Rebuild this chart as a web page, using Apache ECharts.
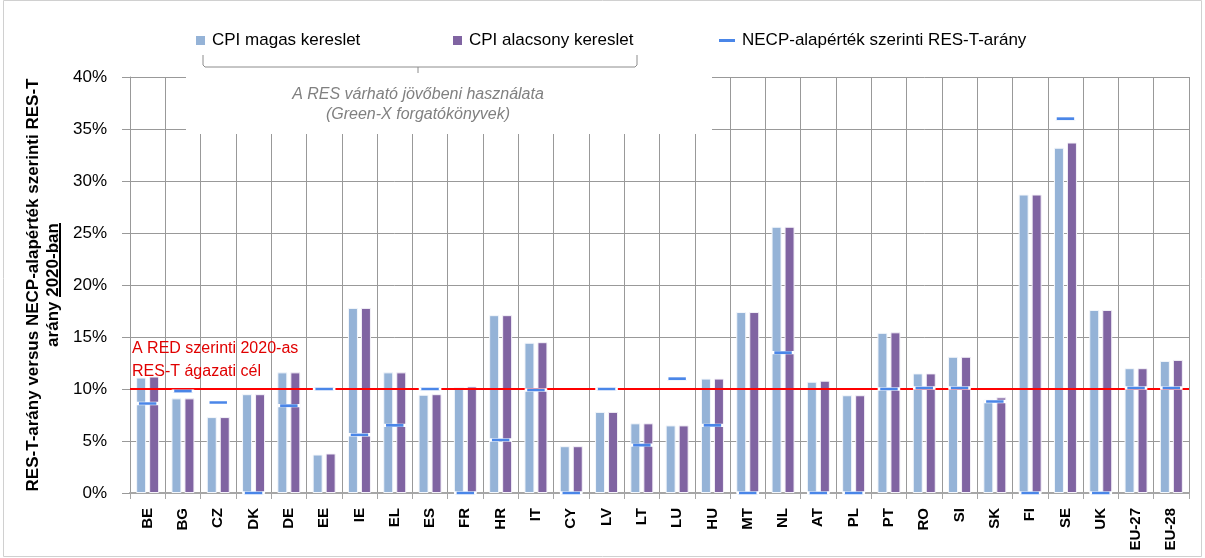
<!DOCTYPE html>
<html>
<head>
<meta charset="utf-8">
<script src="https://cdn.jsdelivr.net/npm/echarts@6/dist/echarts.min.js"></script>
<style>
html,body{margin:0;padding:0;background:#fff;}
#chart{width:1205px;height:558px;}
</style>
</head>
<body>
<div id="chart"></div>
<script>
const categories = ['BE','BG','CZ','DK','DE','EE','IE','EL','ES','FR','HR','IT','CY','LV','LT','LU','HU','MT','NL','AT','PL','PT','RO','SI','SK','FI','SE','UK','EU-27','EU-28'];
const cpiHigh = [11.1, 9.1, 7.3, 9.5, 11.6, 3.7, 17.8, 11.6, 9.45, 10.2, 17.1, 14.45, 4.5, 7.8, 6.7, 6.5, 11.0, 17.4, 25.6, 10.7, 9.4, 15.4, 11.5, 13.1, 9.0, 28.7, 33.2, 17.6, 12.0, 12.7];
const cpiLow  = [11.2, 9.1, 7.3, 9.5, 11.6, 3.8, 17.8, 11.6, 9.5, 10.25, 17.1, 14.5, 4.5, 7.8, 6.7, 6.5, 11.0, 17.4, 25.6, 10.8, 9.4, 15.45, 11.5, 13.1, 9.2, 28.7, 33.7, 17.6, 12.0, 12.8];
const necpShare = [8.6, 9.8, 8.7, 0, 8.4, 10.0, 5.6, 6.5, 10.0, 0, 5.1, 9.9, 0, 10.0, 4.6, 11.0, 6.5, 0, 13.5, 0, 0, 10.0, 10.1, 10.1, 8.8, 0, 36.0, 0, 10.1, 10.1];
const redTarget = 10;
const yTicks = {min: 0, max: 40, interval: 5};
const seriesNames = ['CPI magas kereslet', 'CPI alacsony kereslet', 'NECP-alapérték szerinti RES-T-arány'];
const yTitle1 = 'RES-T-arány versus NECP-alapérték szerinti RES-T';
const yTitle2a = 'arány ';
const yTitle2b = '2020-ban';
const targetLabel = 'A RED szerinti 2020-as\nRES-T ágazati cél';
const annot1 = 'A RES várható jövőbeni használata';
const annot2 = '(Green-X forgatókönyvek)';

const FONT = '"Liberation Sans", Arial, sans-serif';
const chart = echarts.init(document.getElementById('chart'), null, {renderer: 'canvas'});

const legendBase = {
  orient: 'horizontal', padding: 0, icon: 'rect', itemGap: 0,
  textStyle: {fontFamily: FONT, fontSize: 17, color: '#000', padding: [0,0,0,2]},
  itemStyle: {borderWidth: 0}
};

chart.setOption({
  animation: false,
  backgroundColor: '#fff',
  textStyle: {fontFamily: FONT},
  grid: {left: 130, right: 16, top: 77, bottom: 65, containLabel: false},
  legend: [
    Object.assign({}, legendBase, {left: 196, top: 32, itemWidth: 9, itemHeight: 9, data: [seriesNames[0]]}),
    Object.assign({}, legendBase, {left: 453, top: 32, itemWidth: 9, itemHeight: 9, data: [seriesNames[1]]}),
    Object.assign({}, legendBase, {left: 719, top: 32, itemWidth: 16, itemHeight: 3, data: [seriesNames[2]]})
  ],
  xAxis: {
    type: 'category',
    data: categories,
    axisLine: {show: true, lineStyle: {color: '#a6a6a6', width: 2}},
    axisTick: {show: true, interval: 0, length: 6, lineStyle: {color: '#a6a6a6'}},
    splitLine: {show: true, interval: 0, lineStyle: {color: '#999', width: 1}},
    axisLabel: {interval: 0, rotate: 90, margin: 15, fontSize: 15, fontWeight: 'bold', color: '#000', fontFamily: FONT}
  },
  yAxis: {
    type: 'value',
    min: yTicks.min, max: yTicks.max, interval: yTicks.interval,
    axisLine: {show: true, lineStyle: {color: '#999'}},
    axisTick: {show: true, length: 8, lineStyle: {color: '#999'}},
    splitLine: {show: true, lineStyle: {color: '#999', width: 1}},
    axisLabel: {formatter: '{value}%', fontSize: 17, color: '#000', margin: 23, fontFamily: FONT},
    name: '{a|' + yTitle1 + '}\n{a|' + yTitle2a + yTitle2b + '}',
    nameLocation: 'middle',
    nameRotate: 90,
    nameGap: 67,
    nameTextStyle: {
      rich: {a: {fontSize: 17, fontWeight: 'bold', color: '#000', fontFamily: FONT, lineHeight: 20}}
    }
  },
  series: [
    {
      name: seriesNames[0], type: 'bar', data: cpiHigh,
      barWidth: 10, barGap: '30%',
      itemStyle: {color: '#95b3d7', borderColor: '#f4f7fb', borderWidth: 1},
      markLine: {
        silent: true, symbol: 'none',
        data: [{yAxis: redTarget}],
        lineStyle: {color: '#ff0000', width: 2, type: 'solid'},
        label: {show: true, position: 'insideStartTop', formatter: targetLabel, color: '#e00000',
                fontSize: 16, lineHeight: 23, align: 'left', distance: [2, 6], fontFamily: FONT},
        z: 5
      }
    },
    {
      name: seriesNames[1], type: 'bar', data: cpiLow,
      barWidth: 10, barGap: '30%',
      itemStyle: {color: '#8064a2', borderColor: '#f4f2f8', borderWidth: 1}
    },
    {
      name: seriesNames[2], type: 'scatter', data: necpShare,
      symbol: 'rect', symbolSize: [20, 3], z: 6,
      itemStyle: {color: '#4a86e8', borderColor: '#ffffff', borderWidth: 1, opacity: 1}
    }
  ],
  graphic: [
    {type: 'rect', z: 1, shape: {x: 186, y: 70, width: 526, height: 64}, style: {fill: '#fff'}},
    {type: 'polyline', z: 3, shape: {points: [[203,55],[203,65],[205,67],[635,67],[637,65],[637,55]]},
     style: {stroke: '#8c8c8c', lineWidth: 1, fill: null}},
    {type: 'line', z: 3, shape: {x1: 418, y1: 67, x2: 418, y2: 73}, style: {stroke: '#8c8c8c', lineWidth: 1}},
    {type: 'text', z: 3, style: {text: annot1, x: 418, y: 95, align: 'center', verticalAlign: 'middle',
      font: 'italic 16px "Liberation Sans", Arial, sans-serif', fill: '#808080'}},
    {type: 'text', z: 3, style: {text: annot2, x: 418, y: 115, align: 'center', verticalAlign: 'middle',
      font: 'italic 16px "Liberation Sans", Arial, sans-serif', fill: '#808080'}},
    {type: 'line', z: 3, shape: {x1: 60, y1: 223, x2: 60, y2: 297}, style: {stroke: '#000', lineWidth: 2}},
    {type: 'rect', z: 0, shape: {x: 3.5, y: 0.5, width: 1198, height: 556}, style: {fill: null, stroke: '#d0d0d0', lineWidth: 1}}
  ]
});
</script>
</body>
</html>
